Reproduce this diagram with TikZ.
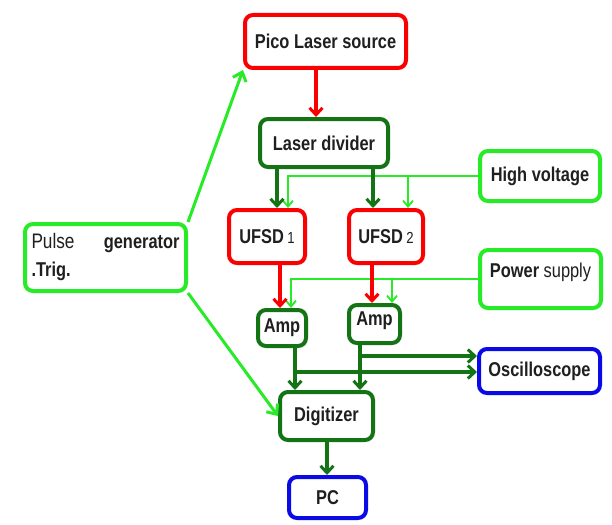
\documentclass[tikz,border=0pt]{standalone}
\usepackage{fontspec}
\setmainfont{Liberation Sans}
\newfontfamily\labfont[FakeStretch=0.82]{Liberation Sans}
\usetikzlibrary{arrows.meta}
\definecolor{cred}{RGB}{250,0,0}
\definecolor{cdark}{RGB}{20,115,20}
\definecolor{clight}{RGB}{40,235,40}
\definecolor{cblue}{RGB}{10,10,230}
\tikzset{
  x=1pt, y=-1pt,
  box/.style={draw, line width=4pt, rounded corners=8pt, fill=white,
    inner sep=0pt, font=\labfont\fontsize{20}{22}\selectfont\bfseries, text=black!88},
  redbox/.style={box, draw=cred},
  darkbox/.style={box, draw=cdark},
  lightbox/.style={box, draw=clight},
  bluebox/.style={box, draw=cblue},
  redarrow/.style={draw=cred, line width=3.4pt, -{Straight Barb[length=7pt,width=13pt,line width=3pt]}},
  darkarrow/.style={draw=cdark, line width=3.6pt, -{Straight Barb[length=7pt,width=13pt,line width=3pt]}},
  lightarrow/.style={draw=clight, line width=1.8pt, -{Straight Barb[length=6pt,width=10pt,line width=1.8pt]}},
  trigarrow/.style={draw=clight, line width=3pt, -{Straight Barb[length=8pt,width=14pt,line width=3pt]}},
}
\begin{document}
\begin{tikzpicture}
\useasboundingbox[fill=white] (0,0) rectangle (612,524);

% blocks
\node[redbox, minimum width=161pt, minimum height=53pt] (pico) at (325.5,41.5) {Pico Laser source};
\node[darkbox, minimum width=128pt, minimum height=48pt] (divider) at (324,143) {Laser divider};
\node[lightbox, minimum width=120pt, minimum height=50pt] (hv) at (540,176) {High voltage};
\node[redbox, minimum width=76pt, minimum height=53pt] (u1) at (267,236.5) {UFSD\,{\mdseries\fontsize{16}{18}\selectfont 1}};
\node[redbox, minimum width=74pt, minimum height=53pt] (u2) at (386,236.5) {UFSD\,{\mdseries\fontsize{16}{18}\selectfont 2}};
\node[lightbox, minimum width=121pt, minimum height=58pt, text depth=18pt] (ps) at (540.5,279) {Power {\mdseries supply}};
\node[darkbox, minimum width=48pt, minimum height=36pt] (amp1) at (282,328) {Amp};
\node[darkbox, minimum width=51pt, minimum height=38pt, text depth=11pt] (amp2) at (374.5,324) {Amp};
\node[bluebox, minimum width=121pt, minimum height=44pt] (osc) at (539.5,371) {Oscilloscope};
\node[darkbox, minimum width=93pt, minimum height=48pt] (dig) at (326.5,416) {Digitizer};
\node[bluebox, minimum width=77pt, minimum height=41pt] (pc) at (327.5,497.5) {PC};
\node[lightbox, minimum width=161pt, minimum height=67pt, text width=148pt, align=left] (pulse) at (105.5,257.5)
  {{\mdseries\fontsize{21}{30}\selectfont Pulse}\hfill generator\\[6pt] {\fontsize{20}{22}\selectfont .Trig.}};

% bias lines (drawn first, the signal arrows cross over them)
\draw[lightarrow] (hv.west) -| (u1.north -| 288,0);
\draw[lightarrow] (hv.west -| 408,0) -- (u2.north -| 408,0);
\draw[lightarrow] (ps.west) -| (amp1.north -| 291,0);
\draw[lightarrow] (ps.west -| 392,0) -- (amp2.north -| 392,0);

% laser path
\draw[redarrow] (pico.south -| 316,0) -- (divider.north -| 316,0);
\draw[darkarrow] (divider.south -| 277,0) -- (u1.north -| 277,0);
\draw[darkarrow] (divider.south -| 373,0) -- (u2.north -| 373,0);
\draw[redarrow] (u1.south -| 280,0) -- (amp1.north -| 280,0);
\draw[redarrow] (u2.south -| 372,0) -- (amp2.north -| 372,0);

% readout
\coordinate (b1) at (295,372);
\coordinate (b2) at (360,356);
\draw[darkarrow] (amp1.south -| b1) -- (dig.north -| b1);
\draw[darkarrow] (amp2.south -| b2) -- (dig.north -| b2);
\draw[darkarrow] (b1) -- (osc.west |- b1);
\draw[darkarrow] (b2) -- (osc.west |- b2);
\draw[darkarrow] (dig.south -| 327,0) -- (pc.north -| 327,0);

% trigger
\draw[trigarrow] (pulse.north east) -- (pico.south west);
\draw[trigarrow] (pulse.south east) -- (dig.west);
\end{tikzpicture}
\end{document}
